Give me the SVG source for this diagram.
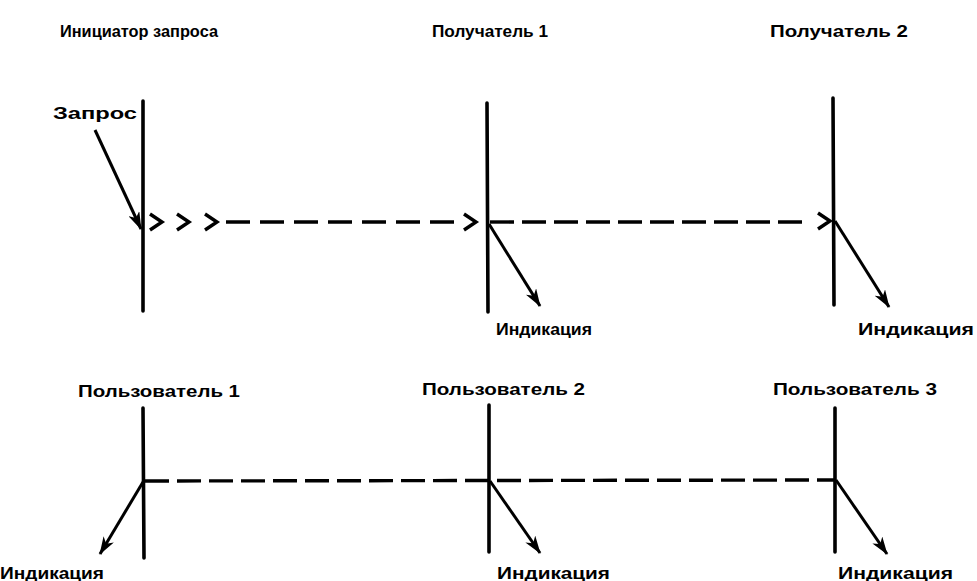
<svg xmlns="http://www.w3.org/2000/svg" width="977" height="581" viewBox="0 0 977 581">
<style>
text{font-family:"Liberation Sans",Arial,sans-serif;font-weight:bold;font-size:16px;fill:#000}
.life{stroke:#000;stroke-width:3.6;fill:none;stroke-linecap:round}
.dash{stroke:#000;stroke-width:3.4;fill:none;stroke-dasharray:24 8}
.chev{stroke:#000;stroke-width:3.4;fill:none;stroke-linejoin:miter}
.arr{stroke:#000;stroke-width:3;fill:none;marker-end:url(#ah)}
</style>
<defs>
<marker id="ah" viewBox="0 0 18 12" refX="17" refY="6" markerWidth="18" markerHeight="12" markerUnits="userSpaceOnUse" orient="auto">
<path d="M0,0 L18,6 L0,12 L5,6 z" fill="#000"/>
</marker>
</defs>
<rect width="977" height="581" fill="#fff"/>

<g id="initiator">
<text x="60" y="37" textLength="158" lengthAdjust="spacingAndGlyphs">Инициатор запроса</text>
<line class="life" x1="143" y1="101" x2="143" y2="311"/>
<text x="53" y="119" textLength="84" lengthAdjust="spacingAndGlyphs">Запрос</text>
</g>
<g id="receiver1">
<text x="432" y="37" textLength="116" lengthAdjust="spacingAndGlyphs">Получатель 1</text>
<line class="life" x1="487" y1="103" x2="488" y2="312"/>
<text x="496" y="335" textLength="96" lengthAdjust="spacingAndGlyphs">Индикация</text>
</g>
<g id="receiver2">
<text x="770" y="37" textLength="138" lengthAdjust="spacingAndGlyphs">Получатель 2</text>
<line class="life" x1="833" y1="98" x2="834" y2="305"/>
<text x="858" y="335" textLength="116" lengthAdjust="spacingAndGlyphs">Индикация</text>
</g>
<g id="user1">
<text x="78" y="397" textLength="162" lengthAdjust="spacingAndGlyphs">Пользователь 1</text>
<line class="life" x1="143" y1="408" x2="144" y2="558"/>
<text x="0" y="579" textLength="104" lengthAdjust="spacingAndGlyphs">Индикация</text>
</g>
<g id="user2">
<text x="422" y="395" textLength="163" lengthAdjust="spacingAndGlyphs">Пользователь 2</text>
<line class="life" x1="489" y1="405" x2="489" y2="552"/>
<text x="497" y="579" textLength="113" lengthAdjust="spacingAndGlyphs">Индикация</text>
</g>
<g id="user3">
<text x="773" y="395" textLength="164" lengthAdjust="spacingAndGlyphs">Пользователь 3</text>
<line class="life" x1="835" y1="408" x2="835" y2="552"/>
<text x="838" y="579" textLength="115" lengthAdjust="spacingAndGlyphs">Индикация</text>
</g>

<g id="connectors">
<line class="arr" x1="95" y1="130" x2="141" y2="229"/>
<polyline class="chev" points="150,214 162,222 150,230"/>
<polyline class="chev" points="177,214 189,222 177,230"/>
<polyline class="chev" points="205,214 217,222 205,230"/>
<line class="dash" x1="226" y1="222" x2="454" y2="222" style="stroke-dasharray:24 10"/>
<polyline class="chev" points="464,214 476,222 464,230"/>
<line class="dash" x1="490" y1="222" x2="806" y2="222"/>
<polyline class="chev" points="818,213 830,221 818,229"/>
<line class="arr" x1="489" y1="224" x2="540" y2="306"/>
<line class="arr" x1="835" y1="221" x2="889" y2="307"/>
<line class="dash" x1="145" y1="481" x2="835" y2="480"/>
<line class="arr" x1="143" y1="482" x2="100" y2="554"/>
<line class="arr" x1="490" y1="481" x2="540" y2="553"/>
<line class="arr" x1="836" y1="480" x2="887" y2="554"/>
</g>
</svg>
